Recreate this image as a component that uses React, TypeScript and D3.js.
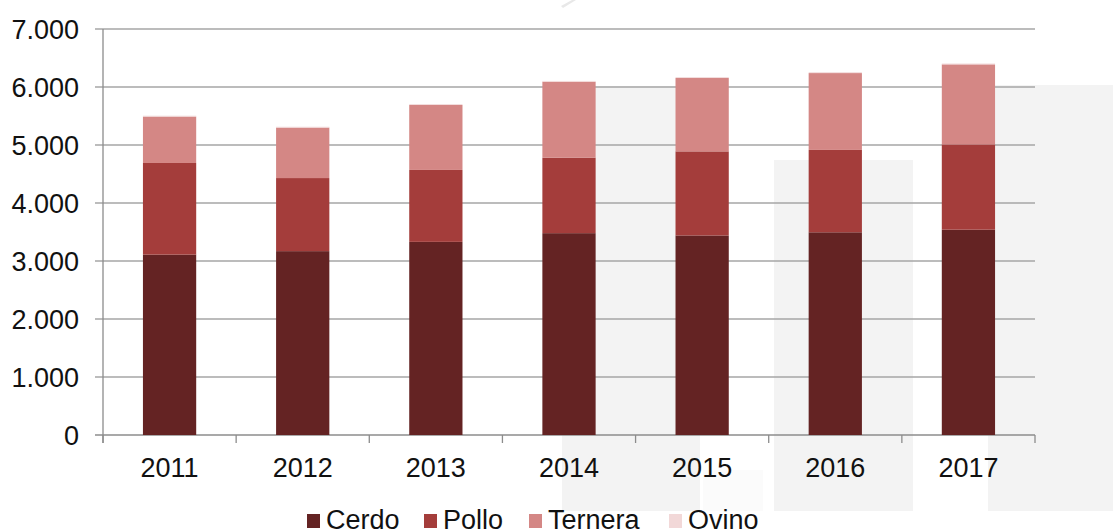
import * as d3 from 'd3';
import React, { useEffect, useRef } from 'react';

const years = ['2011', '2012', '2013', '2014', '2015', '2016', '2017'];
const cerdo = [3110, 3170, 3330, 3480, 3440, 3495, 3540];
const pollo = [1580, 1260, 1240, 1300, 1450, 1420, 1470];
const ternera = [800, 870, 1120, 1310, 1265, 1325, 1380];
const ovino = [15, 15, 15, 15, 15, 15, 15];

const seriesNames = ['Cerdo', 'Pollo', 'Ternera', 'Ovino'];
const seriesColors = ['#642323', '#a43d3b', '#d48785', '#f2d8d8'];
const yTicks = [0, 1000, 2000, 3000, 4000, 5000, 6000, 7000];

const W = 1113;
const H = 530;

const fmt = (v: number) => d3.format(',')(v).replace(/,/g, '.');

export default function App() {
  const ref = useRef<SVGSVGElement | null>(null);

  useEffect(() => {
    const svg = d3.select(ref.current);
    svg.selectAll('*').remove();

    const left = 103;
    const right = 1035;
    const top = 29;
    const bottom = 435;
    const font = 'Liberation Sans, Arial, sans-serif';

    // faint watermark blocks behind the plot
    const bg = [
      [562, 86, 700, 511],
      [774, 160, 913, 511],
      [988, 85, 1113, 511],
    ];
    bg.forEach(([x0, y0, x1, y1]) => {
      svg.append('rect').attr('x', x0).attr('y', y0).attr('width', x1 - x0).attr('height', y1 - y0).attr('fill', '#f3f3f3');
    });
    svg.append('rect').attr('x', 703).attr('y', 470).attr('width', 60).attr('height', 41).attr('fill', '#fbfbfb');
    svg.append('path').attr('d', 'M561,6 L572,0 L576,0 L563,8 Z').attr('fill', '#e8e8e8');

    const x = d3.scaleBand<string>().domain(years).range([left, right]).paddingInner(0.6).paddingOuter(0.3);
    const y = d3.scaleLinear().domain([0, 7000]).range([bottom, top]);
    const step = x.step();
    const x0 = (x(years[0]) as number) - step * 0.3;

    // gridlines + y ticks
    yTicks.forEach(t => {
      svg.append('line')
        .attr('x1', left - 8).attr('x2', right)
        .attr('y1', y(t)).attr('y2', y(t))
        .attr('stroke', t === 0 ? '#8c8c8c' : '#a6a6a6').attr('stroke-width', 1.3);
      svg.append('text')
        .attr('x', 79).attr('y', y(t)).attr('dy', '0.36em')
        .attr('text-anchor', 'end')
        .attr('font-family', font)
        .attr('font-size', 27).attr('fill', '#111')
        .text(fmt(t));
    });

    // y axis line
    svg.append('line').attr('x1', left).attr('x2', left).attr('y1', top).attr('y2', bottom + 8).attr('stroke', '#8c8c8c').attr('stroke-width', 1.3);

    // x tick marks at category boundaries
    d3.range(years.length + 1).forEach(i => {
      const xx = x0 + i * step;
      svg.append('line').attr('x1', xx).attr('x2', xx).attr('y1', bottom).attr('y2', bottom + 8).attr('stroke', '#8c8c8c').attr('stroke-width', 1.3);
    });

    const table = years.map((yr, i) => ({ year: yr, Cerdo: cerdo[i], Pollo: pollo[i], Ternera: ternera[i], Ovino: ovino[i] }));
    const stack = d3.stack<any>().keys(seriesNames)(table);

    stack.forEach((layer, si) => {
      svg.append('g').selectAll('rect').data(layer).join('rect')
        .attr('x', d => x(d.data.year) as number)
        .attr('width', x.bandwidth())
        .attr('y', d => y(d[1]))
        .attr('height', d => y(d[0]) - y(d[1]))
        .attr('fill', seriesColors[si]);
    });

    // x labels
    years.forEach(yr => {
      svg.append('text')
        .attr('x', (x(yr) as number) + x.bandwidth() / 2).attr('y', 477)
        .attr('text-anchor', 'middle')
        .attr('font-family', font)
        .attr('font-size', 27).attr('fill', '#111')
        .text(yr);
    });

    // legend (cut at the bottom edge, as in the source)
    const legX = [307, 424, 529, 669];
    seriesNames.forEach((name, i) => {
      svg.append('rect').attr('x', legX[i]).attr('y', 514).attr('width', 13).attr('height', 14).attr('fill', seriesColors[i]);
      svg.append('text')
        .attr('x', legX[i] + 19).attr('y', 529)
        .attr('font-family', font)
        .attr('font-size', 27).attr('fill', '#111')
        .text(name);
    });
  }, []);

  return (
    <svg ref={ref} width={W} height={H} style={{ position: 'absolute', left: 0, top: 0, background: '#fff' }} />
  );
}
